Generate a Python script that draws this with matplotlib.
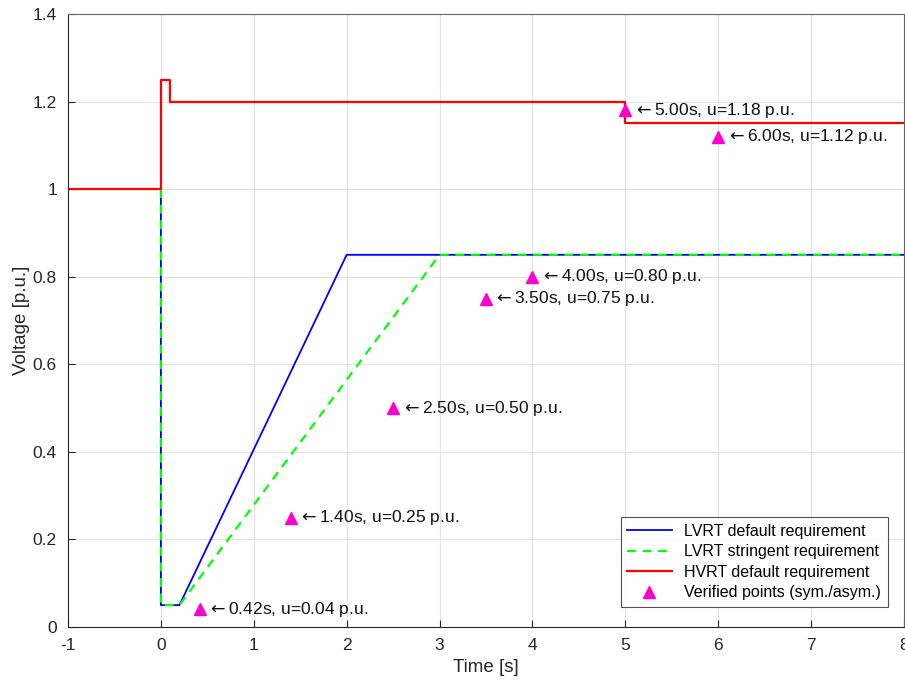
import matplotlib
matplotlib.use("Agg")
import matplotlib.pyplot as plt

plt.rcParams['font.family'] = ['Liberation Sans', 'DejaVu Sans']
plt.rcParams['axes.unicode_minus'] = False

# LVRT / HVRT requirement curves (time [s], voltage [p.u.])
lvrt_default_t = [0, 0, 0.2, 2, 8]
lvrt_default_u = [1, 0.05, 0.05, 0.85, 0.85]

lvrt_stringent_t = [0, 0, 0.2, 3, 8]
lvrt_stringent_u = [1, 0.05, 0.05, 0.85, 0.85]

hvrt_default_t = [-1, 0, 0, 0.1, 0.1, 5, 5, 8]
hvrt_default_u = [1, 1, 1.25, 1.25, 1.2, 1.2, 1.15, 1.15]

# verified points
pts_t = [0.42, 1.40, 2.50, 3.50, 4.00, 5.00, 6.00]
pts_u = [0.04, 0.25, 0.50, 0.75, 0.80, 1.18, 1.12]

fig = plt.figure(figsize=(9.05, 6.81), dpi=100)
ax = fig.add_axes([68/905, 54/681, (904-68)/905, (627-14)/681])

ax.plot(lvrt_default_t, lvrt_default_u, color='#0000ff', lw=1.3, label='LVRT default requirement')
ax.plot(lvrt_stringent_t, lvrt_stringent_u, color='#00ff00', lw=1.6, ls=(0, (4, 3)), label='LVRT stringent requirement')
ax.plot(hvrt_default_t, hvrt_default_u, color='#ff0000', lw=1.6, label='HVRT default requirement')
ax.plot(pts_t, pts_u, ls='none', marker='^', ms=9, color='#ff00cc', mec='#ff00cc', label='Verified points (sym./asym.)')

for t, u in zip(pts_t, pts_u):
    ax.text(t + 0.08, u, r'$\leftarrow$' + f'{t:.2f}s, u={u:.2f} p.u.', fontsize=12.5, va='center', ha='left', color='#111111')

ax.set_xlim(-1, 8)
ax.set_ylim(0, 1.4)
ax.set_xticks(range(-1, 9))
ax.set_yticks([0, 0.2, 0.4, 0.6, 0.8, 1, 1.2, 1.4])
ax.set_yticklabels(['0', '0.2', '0.4', '0.6', '0.8', '1', '1.2', '1.4'])
ax.grid(True, color='#e3e3e3', lw=0.8)
ax.set_axisbelow(True)
ax.tick_params(direction='in', length=5, labelsize=12.5, colors='#262626', pad=8)
for s in ax.spines.values():
    s.set_color('#262626')
    s.set_linewidth(0.8)
ax.spines['top'].set_color('#666666')
ax.spines['right'].set_color('#666666')

ax.set_xlabel('Time [s]', fontsize=13.5, color='#262626', labelpad=4)
ax.set_ylabel('Voltage [p.u.]', fontsize=13.5, color='#262626', labelpad=2)

leg = ax.legend(loc='lower right', bbox_to_anchor=(0.99, 0.02), fontsize=11.5, frameon=True,
                fancybox=False, edgecolor='#262626', handlelength=2.8, borderpad=0.4, labelspacing=0.35)
leg.get_frame().set_linewidth(0.8)

fig.savefig('out.png', dpi=100)
